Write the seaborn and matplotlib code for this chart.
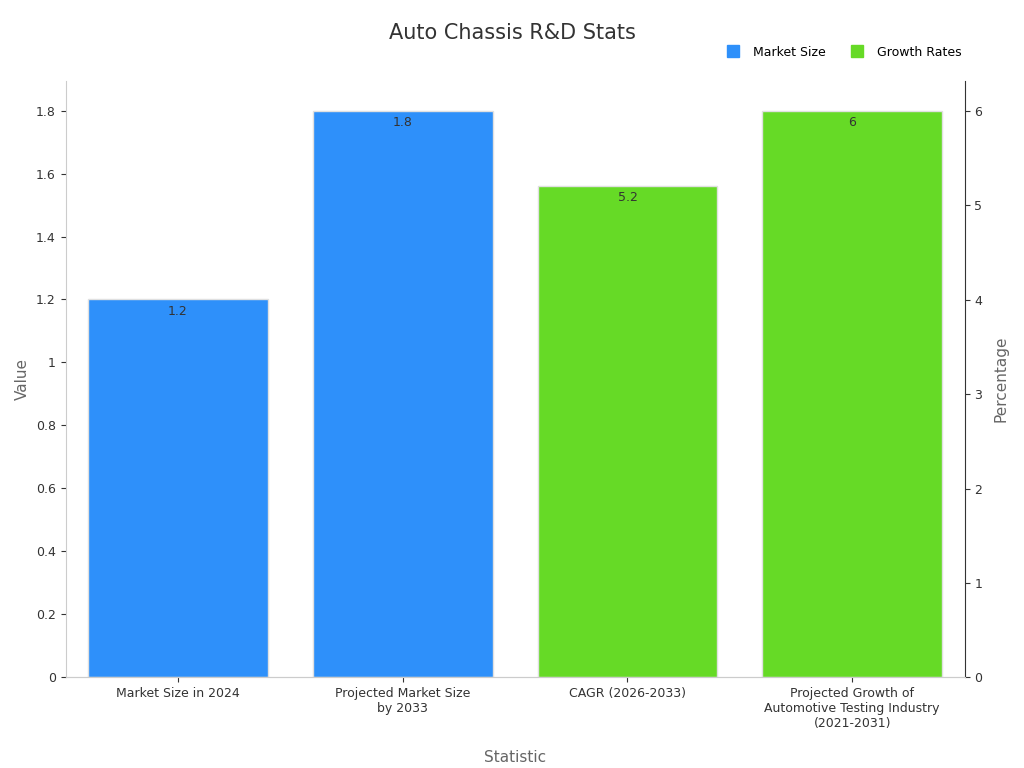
import matplotlib
matplotlib.use("Agg")
import matplotlib.pyplot as plt
import numpy as np
import pandas as pd
import seaborn as sns
from matplotlib.lines import Line2D

categories = [
    "Market Size in 2024",
    "Projected Market Size\nby 2033",
    "CAGR (2026-2033)",
    "Projected Growth of\nAutomotive Testing Industry\n(2021-2031)",
]
market_size = [1.2, 1.8, np.nan, np.nan]
growth_rates = [np.nan, np.nan, 5.2, 6.0]
series = ["Market Size", "Growth Rates"]
colors = {"Market Size": "#2E90FA", "Growth Rates": "#66DA26"}

df_ms = pd.DataFrame({"Statistic": categories, "Series": series[0], "Value": market_size})
df_gr = pd.DataFrame({"Statistic": categories, "Series": series[1], "Value": growth_rates})

fig, ax = plt.subplots(figsize=(10.24, 7.68), dpi=100)
fig.subplots_adjust(left=0.064, right=0.942, top=0.895, bottom=0.118)
ax2 = ax.twinx()

for a, d in [(ax, df_ms), (ax2, df_gr)]:
    d = d.dropna().reset_index(drop=True)
    sns.barplot(data=d, x="Statistic", y="Value", hue="Series", hue_order=series,
                order=categories, palette=colors, ax=a, legend=False, saturation=1,
                edgecolor="#e0e0e0", linewidth=1)
    for c in a.containers:
        vals = c.datavalues
        labels = ["" if (np.isnan(v) or v == 0) else f"{v:g}" for v in vals]
        a.bar_label(c, labels=labels, padding=-13, fontsize=9, color="#333333")

ax.set_xlim(-0.5, 3.5)
ax.set_ylim(0, 1.895)
ax2.set_ylim(0, 6.32)
ax.set_yticks(np.arange(0, 1.81, 0.2))
ax.set_yticklabels(["0", "0.2", "0.4", "0.6", "0.8", "1", "1.2", "1.4", "1.6", "1.8"])
ax2.set_yticks(range(7))

ax.set_xlabel("Statistic", color="#666666", fontsize=11, labelpad=14)
ax.set_ylabel("Value", color="#666666", fontsize=11)
ax2.set_ylabel("Percentage", color="#666666", fontsize=11, labelpad=8)
ax.tick_params(labelsize=9, colors="#333333")
ax2.tick_params(labelsize=9, colors="#333333")

ax.spines["top"].set_visible(False)
ax2.spines["top"].set_visible(False)
ax.spines["right"].set_visible(False)
ax.spines["left"].set_color("#cccccc")
ax.spines["bottom"].set_color("#cccccc")
ax2.spines["left"].set_visible(False)
ax2.spines["bottom"].set_color("#cccccc")
ax2.spines["right"].set_color("#333333")

fig.suptitle("Auto Chassis R&D Stats", fontsize=15, color="#333333", y=0.97)
handles = [Line2D([], [], marker="s", linestyle="", markersize=8, color=colors[s]) for s in series]
fig.legend(handles, series, loc="upper right", bbox_to_anchor=(0.95, 0.955), ncol=2,
           frameon=False, fontsize=9, handletextpad=0.6, columnspacing=1.5)

fig.savefig("out.png", dpi=100)
